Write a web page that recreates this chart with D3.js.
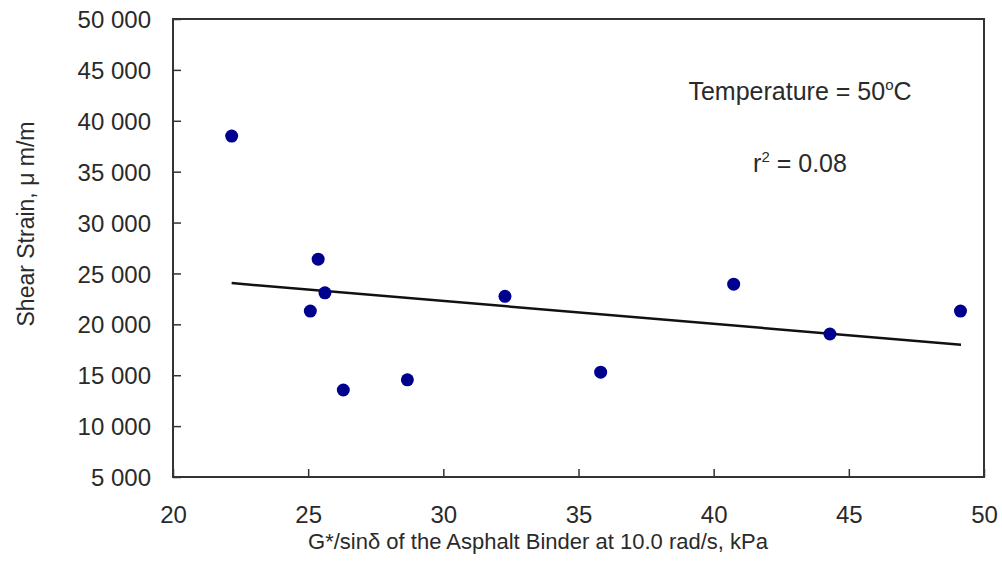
<!DOCTYPE html>
<html>
<head>
<meta charset="utf-8">
<script src="https://cdn.jsdelivr.net/npm/d3@7"></script>
<style>
  body { margin: 0; background: #fff; }
  svg text { font-family: "Liberation Sans", Arial, sans-serif; fill: #2a2a2a; }
</style>
</head>
<body>
<svg id="chart" width="1002" height="565"></svg>
<script>
// binder stiffness G*/sin(delta), kPa
const binderStiffness = [22.17, 25.37, 25.62, 25.08, 26.3, 28.67, 32.28, 35.82, 40.74, 44.3, 49.13];
// shear strain, microstrain
const shearStrain = [38500, 26400, 23100, 21300, 13550, 14550, 22750, 15300, 23950, 19050, 21300];
// trend line end points
const trendX = [22.17, 49.15];
const trendY = [24050, 18000];

const xTicks = [20, 25, 30, 35, 40, 45, 50];
const yTicks = [5000, 10000, 15000, 20000, 25000, 30000, 35000, 40000, 45000, 50000];

const margin = {top: 19, right: 18, bottom: 88, left: 173};
const width = 1002, height = 565;

const svg = d3.select('#chart');

const x = d3.scaleLinear()
  .domain([20, 50])
  .range([margin.left, width - margin.right]);

const y = d3.scaleLinear()
  .domain([5000, 50000])
  .range([height - margin.bottom, margin.top]);

// "50 000" style, space as thousands separator
const fmt = d => d3.format(',')(d).replace(',', ' ');

// frame
svg.append('rect')
  .attr('x', x(20))
  .attr('y', y(50000))
  .attr('width', x(50) - x(20))
  .attr('height', y(5000) - y(50000))
  .attr('fill', 'none')
  .attr('stroke', '#333')
  .attr('stroke-width', 2);

// x axis, ticks pointing inside
const xAxis = svg.append('g')
  .attr('transform', `translate(0,${y(5000)})`)
  .call(d3.axisTop(x).tickValues(xTicks).tickSize(8).tickSizeOuter(0).tickFormat(d => d));
xAxis.select('.domain').remove();
xAxis.selectAll('.tick line').attr('stroke', '#333').attr('stroke-width', 1.5);
xAxis.selectAll('.tick text')
  .attr('y', 46)
  .attr('dy', 0)
  .attr('font-size', 24)
  .attr('text-anchor', 'middle');

// y axis, ticks pointing inside
const yAxis = svg.append('g')
  .attr('transform', `translate(${x(20)},0)`)
  .call(d3.axisRight(y).tickValues(yTicks).tickSize(8).tickSizeOuter(0).tickFormat(fmt));
yAxis.select('.domain').remove();
yAxis.selectAll('.tick line').attr('stroke', '#333').attr('stroke-width', 1.5);
yAxis.selectAll('.tick text')
  .attr('x', -22)
  .attr('dy', '0.36em')
  .attr('font-size', 24)
  .attr('text-anchor', 'end');

// trend line
const points = trendX.map((d, i) => [d, trendY[i]]);
svg.append('path')
  .datum(points)
  .attr('fill', 'none')
  .attr('stroke', '#111')
  .attr('stroke-width', 2.5)
  .attr('d', d3.line().x(d => x(d[0])).y(d => y(d[1])));

// data points
svg.append('g')
  .selectAll('circle')
  .data(binderStiffness.map((d, i) => ({x: d, y: shearStrain[i]})))
  .join('circle')
  .attr('cx', d => x(d.x))
  .attr('cy', d => y(d.y))
  .attr('r', 6.5)
  .attr('fill', '#00008f');

// annotations
const temp = svg.append('text')
  .attr('x', 800)
  .attr('y', 100)
  .attr('text-anchor', 'middle')
  .attr('font-size', 25);
temp.append('tspan').text('Temperature = 50');
temp.append('tspan').attr('font-size', 15).attr('dy', -10).text('o');
temp.append('tspan').attr('dy', 10).text('C');

const r2 = svg.append('text')
  .attr('x', 800)
  .attr('y', 172)
  .attr('text-anchor', 'middle')
  .attr('font-size', 25);
r2.append('tspan').text('r');
r2.append('tspan').attr('font-size', 15).attr('dy', -10).text('2');
r2.append('tspan').attr('dy', 10).text(' = 0.08');

// axis titles
svg.append('text')
  .attr('x', 538)
  .attr('y', 549)
  .attr('text-anchor', 'middle')
  .attr('font-size', 22)
  .text('G*/sinδ of the Asphalt Binder at 10.0 rad/s, kPa');

svg.append('text')
  .attr('transform', 'translate(34,224) rotate(-90)')
  .attr('text-anchor', 'middle')
  .attr('font-size', 23)
  .text('Shear Strain, μ m/m');
</script>
</body>
</html>
